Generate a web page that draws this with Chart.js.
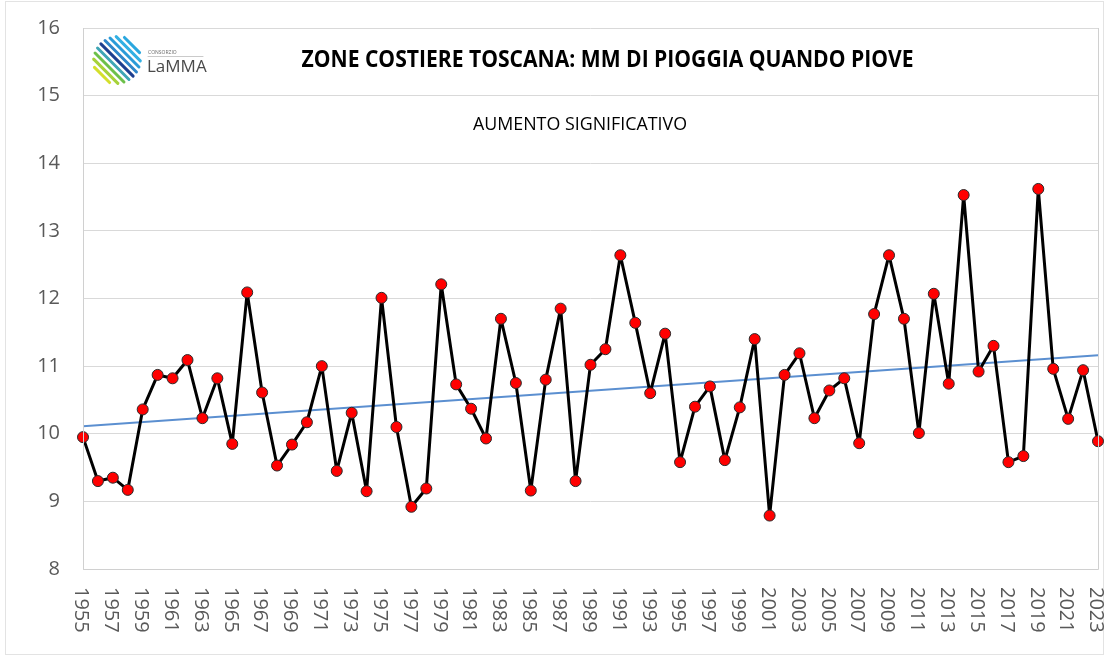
<!DOCTYPE html>
<html>
<head>
<meta charset="utf-8">
<script src="https://cdn.jsdelivr.net/npm/chart.js@4"></script>
<style>
  html, body { margin: 0; padding: 0; background: #ffffff; }
  canvas { display: block; }
</style>
</head>
<body>
<canvas id="c" width="1108" height="660"></canvas>
<script>
const years = ['1955','1956','1957','1958','1959','1960','1961','1962','1963','1964','1965','1966','1967','1968','1969','1970','1971','1972','1973','1974','1975','1976','1977','1978','1979','1980','1981','1982','1983','1984','1985','1986','1987','1988','1989','1990','1991','1992','1993','1994','1995','1996','1997','1998','1999','2000','2001','2002','2003','2004','2005','2006','2007','2008','2009','2010','2011','2012','2013','2014','2015','2016','2017','2018','2019','2020','2021','2022','2023'];
const rainfall = [9.95,9.30,9.35,9.17,10.36,10.87,10.82,11.09,10.23,10.82,9.85,12.09,10.61,9.53,9.84,10.17,11.00,9.45,10.31,9.15,12.01,10.10,8.92,9.19,12.21,10.73,10.37,9.93,11.70,10.75,9.16,10.80,11.85,9.30,11.02,11.25,12.64,11.64,10.60,11.48,9.58,10.40,10.70,9.61,10.39,11.40,8.79,10.87,11.19,10.23,10.64,10.82,9.86,11.77,12.64,11.70,10.01,12.07,10.74,13.53,10.92,11.30,9.58,9.67,13.62,10.96,10.22,10.94,9.89];
const trendYears = ['1955','2023'];
const trendValues = [10.11, 11.16];
const xTickLabels = years.filter((y, i) => i % 2 === 0);
const yRange = [8, 16];
const titleText = 'ZONE COSTIERE TOSCANA: MM DI PIOGGIA QUANDO PIOVE';
const subtitleText = 'AUMENTO SIGNIFICATIVO';

const decorPlugin = {
  id: 'decor',
  beforeDraw(chart) {
    const ctx = chart.ctx;
    ctx.save();
    ctx.fillStyle = '#ffffff';
    ctx.fillRect(0, 0, chart.width, chart.height);
    ctx.strokeStyle = '#e3e3e3';
    ctx.lineWidth = 1;
    ctx.strokeRect(5.5, 1.5, 1098, 653);
    ctx.restore();
  },
  afterDraw(chart) {
    const ctx = chart.ctx;
    const a = chart.chartArea;
    const xs = chart.scales.x;
    ctx.save();
    // plot border
    ctx.strokeStyle = '#d0d0d0';
    ctx.lineWidth = 1;
    ctx.beginPath();
    ctx.moveTo(Math.round(a.left) + 0.5, a.top);
    ctx.lineTo(Math.round(a.left) + 0.5, Math.round(a.bottom) + 0.5);
    ctx.lineTo(Math.round(a.right) + 0.5, Math.round(a.bottom) + 0.5);
    ctx.lineTo(Math.round(a.right) + 0.5, a.top);
    ctx.stroke();

    // x tick labels rotated (reading top-to-bottom)
    ctx.fillStyle = '#595959';
    ctx.font = '20px "Open Sans"';
    ctx.textAlign = 'left';
    ctx.textBaseline = 'middle';
    xTickLabels.forEach(lbl => {
      const x = xs.getPixelForValue(years.indexOf(lbl));
      ctx.save();
      ctx.translate(x - 2, 587);
      ctx.rotate(Math.PI / 2);
      ctx.fillText(lbl, 0, 0);
      ctx.restore();
    });

    // title
    ctx.fillStyle = '#000000';
    ctx.font = 'bold 24px "Open Sans"';
    ctx.textAlign = 'center';
    ctx.textBaseline = 'middle';
    let w = ctx.measureText(titleText).width;
    ctx.save();
    ctx.translate(607.5, 60);
    ctx.scale(612 / w, 1);
    ctx.fillText(titleText, 0, 0);
    ctx.restore();

    // subtitle
    ctx.font = '18px "Open Sans"';
    w = ctx.measureText(subtitleText).width;
    ctx.save();
    ctx.translate(580, 125);
    ctx.scale(214 / w, 1);
    ctx.fillText(subtitleText, 0, 0);
    ctx.restore();

    // logo stripes
    const cx = 117, cy = 60, r = 24;
    const stripeColors = ['#2aa7df','#33b0e3','#2a9bd8','#2f86c9','#1d3f8f','#3fa6b5','#6cc04a','#a6d23a','#d4df2c'];
    ctx.lineCap = 'round';
    ctx.lineWidth = 3;
    stripeColors.forEach((c, k) => {
      const d = (4 - k) * 5.3;
      const half = Math.sqrt(Math.max(0, r * r - d * d)) * 0.95;
      const px = cx + d / Math.SQRT2, py = cy - d / Math.SQRT2;
      ctx.strokeStyle = c;
      ctx.beginPath();
      ctx.moveTo(px - half / Math.SQRT2, py - half / Math.SQRT2);
      ctx.lineTo(px + half / Math.SQRT2, py + half / Math.SQRT2);
      ctx.stroke();
    });
    // logo text
    ctx.fillStyle = '#6b6b6b';
    ctx.font = '5px "Open Sans"';
    ctx.textAlign = 'left';
    ctx.textBaseline = 'alphabetic';
    ctx.fillText('CONSORZIO', 148, 54);
    ctx.strokeStyle = '#bdbdbd';
    ctx.lineWidth = 0.8;
    ctx.beginPath();
    ctx.moveTo(148, 56.5);
    ctx.lineTo(203, 56.5);
    ctx.stroke();
    ctx.fillStyle = '#4a4a4a';
    ctx.font = '17px "Open Sans"';
    ctx.fillText('LaMMA', 147, 72);
    ctx.restore();
  }
};

new Chart(document.getElementById('c'), {
  type: 'line',
  data: {
    labels: years,
    datasets: [
      {
        data: rainfall,
        borderColor: '#000000',
        borderWidth: 3,
        borderJoinStyle: 'round',
        pointBackgroundColor: '#ff0000',
        pointBorderColor: '#2b2b2b',
        pointBorderWidth: 1,
        pointRadius: 5.5,
        tension: 0,
        clip: false
      },
      {
        data: trendYears.map((y, i) => ({ x: y, y: trendValues[i] })),
        borderColor: '#5b8fd0',
        borderWidth: 2,
        pointRadius: 0,
        tension: 0,
        clip: false
      }
    ]
  },
  options: {
    responsive: false,
    animation: false,
    devicePixelRatio: 1,
    layout: { padding: { left: 0, right: 10, top: 28, bottom: 0 } },
    plugins: { legend: { display: false }, tooltip: { enabled: false }, title: { display: false } },
    scales: {
      x: {
        type: 'category',
        offset: false,
        grid: { display: false, drawTicks: false },
        border: { display: false },
        ticks: { display: false },
        afterFit(scale) { scale.height = 91; scale.paddingLeft = 0; scale.paddingRight = 0; }
      },
      y: {
        min: yRange[0],
        max: yRange[1],
        grid: { color: '#d9d9d9', lineWidth: 1, drawTicks: false },
        border: { display: false },
        ticks: {
          stepSize: 1,
          color: '#595959',
          padding: 23,
          font: { family: '"Open Sans"', size: 20 }
        },
        afterFit(scale) { scale.width = 83; scale.paddingTop = 0; scale.paddingBottom = 0; }
      }
    }
  },
  plugins: [decorPlugin]
});
</script>
</body>
</html>
